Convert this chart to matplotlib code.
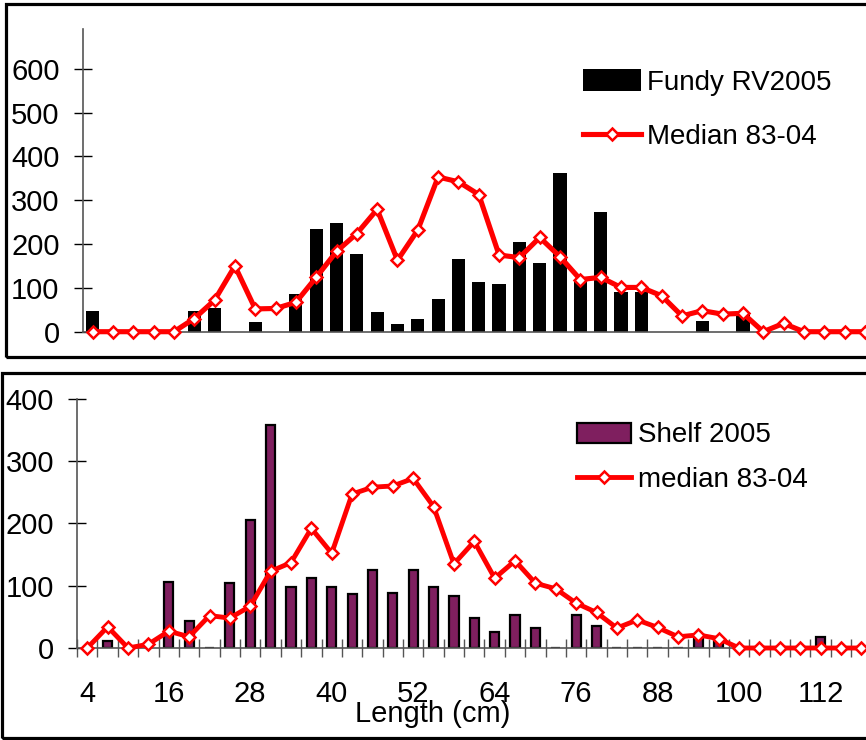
import matplotlib
matplotlib.use('Agg')
import matplotlib.pyplot as plt
from matplotlib.patches import Rectangle

plt.rcParams['font.family'] = ['Liberation Sans', 'DejaVu Sans']

# length classes (cm), 3 cm bins
lengths = list(range(4, 119, 3))

fundy_2005 = [48, 0, 0, 0, 0, 47, 55, 0, 23, 0, 87, 234, 247, 178, 46, 17, 30, 74,
              165, 113, 109, 204, 157, 362, 119, 272, 91, 91, 0, 0, 25, 0, 38, 0,
              0, 0, 0, 0, 0]
fundy_median = [0, 0, 0, 0, 0, 30, 72, 150, 52, 53, 67, 124, 183, 224, 279, 163, 232,
                353, 342, 313, 175, 169, 215, 171, 119, 124, 101, 101, 82, 36, 48,
                40, 42, 0, 19, 0, 0, 0, 0]

shelf_2005 = [0, 12, 0, 0, 106, 44, 0, 105, 205, 357, 98, 113, 98, 86, 125, 89, 125,
              98, 83, 48, 26, 53, 32, 0, 53, 35, 0, 0, 0, 0, 16, 10, 0, 0, 0, 0,
              18, 0, 0]
shelf_median = [0, 34, 0, 6, 27, 18, 52, 48, 67, 123, 137, 192, 152, 247, 258, 260,
                272, 227, 135, 171, 112, 140, 104, 95, 72, 57, 32, 45, 33, 18, 21,
                15, 0, 0, 0, 0, 0, 0, 0]

tick_labels = [str(v) if (v - 4) % 12 == 0 else '' for v in lengths]

W, H = 866, 740
fig = plt.figure(figsize=(W / 100, H / 100), dpi=100)

def px_axes(left, right, top, bottom):
    return fig.add_axes([left / W, 1 - bottom / H, (right - left) / W, (bottom - top) / H])

x = list(range(len(lengths)))
red = '#ff0000'
purple = '#7f1f5f'
fs = 20
tfs = 21

def style(ax):
    ax.set_facecolor('none')
    for s in ['top', 'right']:
        ax.spines[s].set_visible(False)
    for s in ['left', 'bottom']:
        ax.spines[s].set_color('#555555')
        ax.spines[s].set_linewidth(1.2)
    ax.tick_params(axis='y', direction='inout', length=13, width=1, pad=10, labelsize=tfs)
    ax.set_xlim(-0.5, len(lengths) - 0.5)

# ---- top panel: Fundy
ax1 = px_axes(82.5, 875, 29.3, 331.7)
b1 = ax1.bar(x, fundy_2005, width=0.65, color='black', label='Fundy RV2005', zorder=2)
l1, = ax1.plot(x, fundy_median, '-D', color=red, lw=3.7, ms=6, mfc='white', mec=red, mew=1.8,
               label='Median 83-04', zorder=3, clip_on=False)
ax1.set_ylim(0, 690)
ax1.set_yticks(range(0, 601, 100))
ax1.set_xticks([])
style(ax1)
ax1.legend(handles=[b1, l1], loc='upper left', bbox_to_anchor=(583 / W, 1 - 69 / H),
           bbox_transform=fig.transFigure, frameon=False, fontsize=fs, borderpad=0,
           borderaxespad=0, handlelength=2.1, handleheight=0.85,
           handletextpad=0.2, labelspacing=1.0)

# ---- bottom panel: Shelf
ax2 = px_axes(77.1, 871.5, 398.7, 648)
b2 = ax2.bar(x, shelf_2005, width=0.45, color=purple, edgecolor='black', linewidth=1.6,
             label='Shelf 2005', zorder=2)
l2, = ax2.plot(x, shelf_median, '-D', color=red, lw=3.5, ms=6, mfc='white', mec=red, mew=1.8,
               label='median 83-04', zorder=3, clip_on=False)
ax2.set_ylim(0, 400)
ax2.set_yticks(range(0, 401, 100))
ax2.set_xticks(x)
ax2.set_xticklabels(tick_labels)
ax2.set_xticks([i - 0.5 for i in range(len(lengths) + 1)], minor=True)
ax2.tick_params(axis='x', which='major', length=0, pad=23, labelsize=tfs)
ax2.tick_params(axis='x', which='minor', direction='inout', length=13, width=1, color='#555555')
style(ax2)
ax2.legend(handles=[b2, l2], loc='upper left', bbox_to_anchor=(577 / W, 1 - 422.5 / H),
           bbox_transform=fig.transFigure, frameon=False, fontsize=fs, borderpad=0,
           borderaxespad=0, handlelength=1.95, handleheight=0.75,
           handletextpad=0.25, labelspacing=0.68)

fig.text(433 / W, 1 - 722.5 / H, 'Length (cm)', ha='center', va='baseline', fontsize=21)

# panel frames
fig.add_artist(Rectangle((6 / W, 1 - 356.5 / H), 2, (356.5 - 4) / H, transform=fig.transFigure,
                         fill=False, lw=2.3, ec='black'))
fig.add_artist(Rectangle((1.5 / W, 1 - 738 / H), 2, (738 - 373) / H, transform=fig.transFigure,
                         fill=False, lw=2.3, ec='black'))

fig.savefig('out.png', dpi=100)
